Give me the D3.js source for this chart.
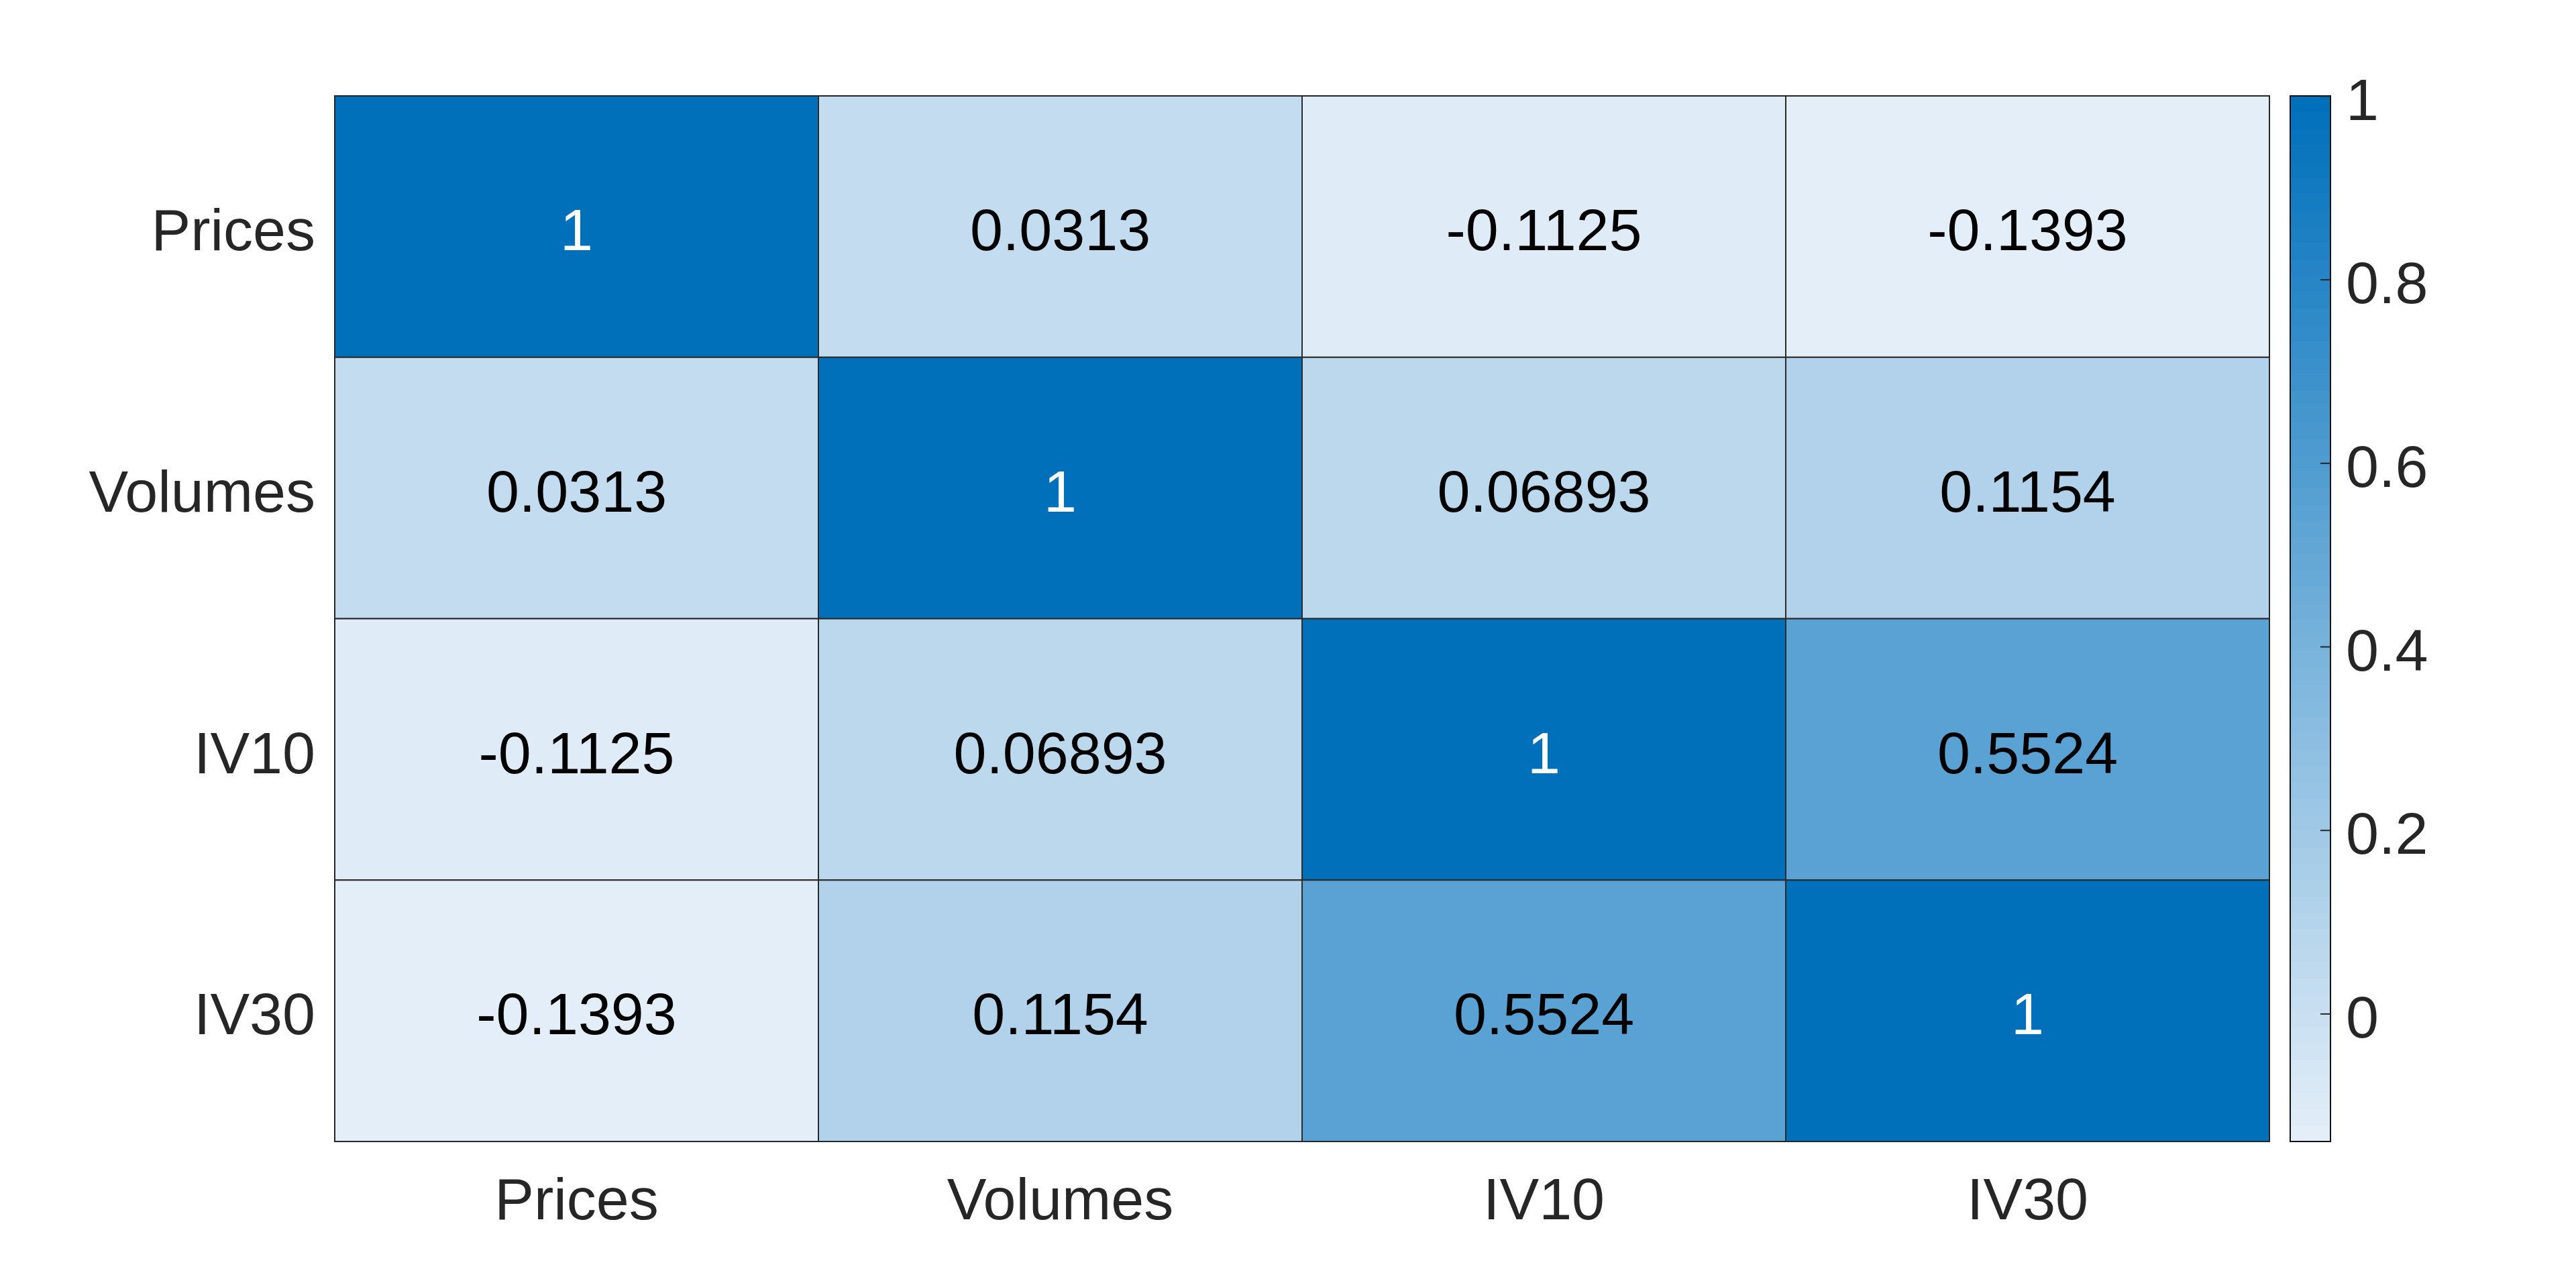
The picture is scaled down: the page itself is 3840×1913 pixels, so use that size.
<!DOCTYPE html>
<html>
<head>
<meta charset="utf-8">
<script src="https://cdn.jsdelivr.net/npm/d3@7"></script>
<style>
  html, body { margin: 0; padding: 0; background: #ffffff; }
  svg { display: block; }
</style>
</head>
<body>
<svg id="chart" width="3840" height="1913"></svg>
<script>
// ---- data ----
const rowLabels = ["Prices", "Volumes", "IV10", "IV30"];
const colLabels = ["Prices", "Volumes", "IV10", "IV30"];
const rowPrices  = [1, 0.0313, -0.1125, -0.1393];
const rowVolumes = [0.0313, 1, 0.06893, 0.1154];
const rowIV10    = [-0.1125, 0.06893, 1, 0.5524];
const rowIV30    = [-0.1393, 0.1154, 0.5524, 1];
const colorbarTicks = [0, 0.2, 0.4, 0.6, 0.8, 1];

const matrix = [rowPrices, rowVolumes, rowIV10, rowIV30];
const cells = [];
matrix.forEach((row, i) => row.forEach((v, j) => cells.push({r: rowLabels[i], c: colLabels[j], v: v})));

// ---- layout ----
const plot = {x0: 499, x1: 3383, y0: 143, y1: 1702};
const cbar = {x0: 3414, x1: 3474};
const fontFamily = "'Liberation Sans', Arial, Helvetica, sans-serif";
const fontSize = 88;
const nColors = 64;

const svg = d3.select("#chart");
svg.append("rect").attr("width", 3840).attr("height", 1913).attr("fill", "#ffffff");

const x = d3.scaleBand().domain(colLabels).range([plot.x0, plot.x1]);
const y = d3.scaleBand().domain(rowLabels).range([plot.y0, plot.y1]);

const vmin = d3.min(cells, d => d.v);
const vmax = d3.max(cells, d => d.v);
const interp = d3.interpolateRgb("rgb(227,238,248)", "rgb(0,112,187)");
const cmap = d3.range(nColors).map(i => interp(i / (nColors - 1)));
const quant = d3.scaleQuantize().domain([vmin, vmax]).range(cmap);

const fmt = d3.formatLocale({decimal: ".", thousands: ",", grouping: [3], currency: ["", ""], minus: "-"}).format(".4~g");

// cells
const g = svg.append("g");
g.selectAll("rect.cell").data(cells).join("rect")
  .attr("class", "cell")
  .attr("x", d => x(d.c))
  .attr("y", d => y(d.r))
  .attr("width", x.bandwidth())
  .attr("height", y.bandwidth())
  .attr("fill", d => quant(d.v))
  .attr("stroke", "#2b2b2b")
  .attr("stroke-width", 2);

g.selectAll("text.val").data(cells).join("text")
  .attr("class", "val")
  .attr("x", d => x(d.c) + x.bandwidth() / 2)
  .attr("y", d => y(d.r) + y.bandwidth() / 2)
  .attr("dy", "0.4em")
  .attr("text-anchor", "middle")
  .attr("font-family", fontFamily)
  .attr("font-size", fontSize)
  .attr("fill", d => {
    const c = d3.rgb(quant(d.v));
    const lum = (0.299 * c.r + 0.587 * c.g + 0.114 * c.b) / 255;
    return lum < 0.5 ? "#ffffff" : "#000000";
  })
  .text(d => fmt(d.v));

// outer border
svg.append("rect")
  .attr("x", plot.x0).attr("y", plot.y0)
  .attr("width", plot.x1 - plot.x0).attr("height", plot.y1 - plot.y0)
  .attr("fill", "none").attr("stroke", "#262626").attr("stroke-width", 2);

// axes
const yAxis = svg.append("g")
  .attr("transform", `translate(${plot.x0},0)`)
  .call(d3.axisLeft(y).tickSize(0).tickPadding(29));
yAxis.select(".domain").remove();
yAxis.selectAll("text")
  .attr("font-family", fontFamily).attr("font-size", fontSize)
  .attr("fill", "#262626").attr("dy", "0.4em");

const xAxis = svg.append("g")
  .attr("transform", `translate(0,${plot.y1})`)
  .call(d3.axisBottom(x).tickSize(0).tickPadding(54));
xAxis.select(".domain").remove();
xAxis.selectAll("text")
  .attr("font-family", fontFamily).attr("font-size", fontSize)
  .attr("fill", "#262626");

// colorbar
const cy = d3.scaleLinear().domain([vmin, vmax]).range([plot.y1, plot.y0]);
const step = (vmax - vmin) / nColors;
svg.append("g").selectAll("rect").data(cmap).join("rect")
  .attr("x", cbar.x0)
  .attr("width", cbar.x1 - cbar.x0)
  .attr("y", (d, i) => cy(vmin + (i + 1) * step))
  .attr("height", (d, i) => cy(vmin + i * step) - cy(vmin + (i + 1) * step) + 0.6)
  .attr("fill", d => d);

svg.append("rect")
  .attr("x", cbar.x0).attr("y", plot.y0)
  .attr("width", cbar.x1 - cbar.x0).attr("height", plot.y1 - plot.y0)
  .attr("fill", "none").attr("stroke", "#111111").attr("stroke-width", 2);

const cAxis = svg.append("g")
  .attr("transform", `translate(${cbar.x1},0)`)
  .call(d3.axisRight(cy).tickValues(colorbarTicks).tickFormat(fmt).tickSize(-15).tickPadding(23));
cAxis.select(".domain").remove();
cAxis.selectAll("line").attr("stroke", "#262626").attr("stroke-width", 2);
cAxis.selectAll("text")
  .attr("font-family", fontFamily).attr("font-size", fontSize)
  .attr("fill", "#262626").attr("dy", "0.4em");
</script>
</body>
</html>
